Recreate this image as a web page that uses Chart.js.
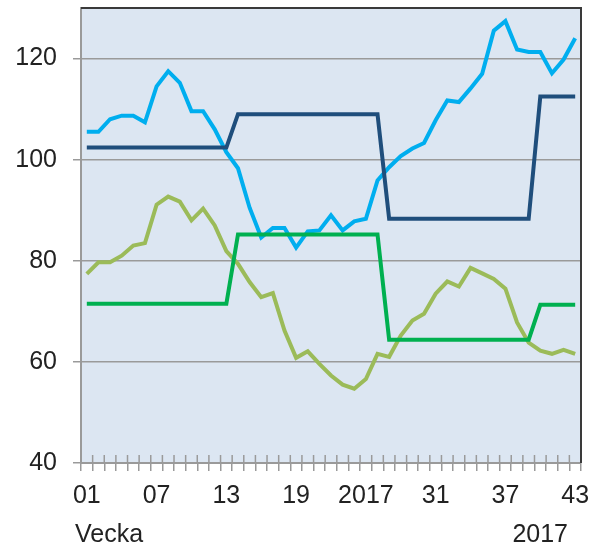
<!DOCTYPE html>
<html lang="sv">
<head>
    <meta charset="UTF-8">
    <title>Vecka 2017</title>
    <script src="https://cdn.jsdelivr.net/npm/chart.js"></script>
    <style>
        body {
            margin: 0;
            background: #ffffff;
        }
        .wrap {
            width: 606px;
            height: 552px;
        }
    </style>
</head>
<body>
    <div class="wrap">
        <canvas id="chart" width="606" height="552"></canvas>
    </div>

    <script>
        const weeks = ['01','02','03','04','05','06','07','08','09','10','11','12','13','14','15',
            '16','17','18','19','20','21','22','23','24','25','26','27','28','29','30',
            '31','32','33','34','35','36','37','38','39','40','41','42','43'];
        const tickLabels = ['01', '07', '13', '19', '2017', '31', '37', '43'];
        const tickStep = 6;
        const yTicks = [40, 60, 80, 100, 120];

        const lightBlue = [105.5, 105.5, 108.0, 108.7, 108.7, 107.4, 114.5, 117.5, 115.2, 109.6,
            109.6, 106.0, 101.5, 98.3, 90.5, 84.6, 86.5, 86.5, 82.6, 85.8,
            86.0, 89.0, 86.0, 87.8, 88.3, 95.9, 98.5, 100.7, 102.2, 103.3,
            107.8, 111.7, 111.4, 114.1, 117.0, 125.5, 127.4, 121.8, 121.3, 121.3,
            117.1, 119.8, 124.0];
        const olive = [77.4, 79.7, 79.7, 81.0, 83.0, 83.5, 91.1, 92.7, 91.7, 88.0,
            90.3, 87.0, 81.9, 79.4, 75.8, 72.8, 73.6, 66.2, 60.8, 62.1,
            59.6, 57.3, 55.5, 54.7, 56.6, 61.6, 61.0, 65.2, 68.2, 69.5,
            73.5, 75.9, 74.9, 78.6, 77.5, 76.4, 74.5, 67.8, 63.8, 62.2,
            61.6, 62.4, 61.6];
        const navy = [102.4, 102.4, 102.4, 102.4, 102.4, 102.4, 102.4, 102.4, 102.4, 102.4,
            102.4, 102.4, 102.4, 109.0, 109.0, 109.0, 109.0, 109.0, 109.0, 109.0,
            109.0, 109.0, 109.0, 109.0, 109.0, 109.0, 88.3, 88.3, 88.3, 88.3,
            88.3, 88.3, 88.3, 88.3, 88.3, 88.3, 88.3, 88.3, 88.3, 112.5,
            112.5, 112.5, 112.5];
        const green = [71.5, 71.5, 71.5, 71.5, 71.5, 71.5, 71.5, 71.5, 71.5, 71.5,
            71.5, 71.5, 71.5, 85.2, 85.2, 85.2, 85.2, 85.2, 85.2, 85.2,
            85.2, 85.2, 85.2, 85.2, 85.2, 85.2, 64.4, 64.4, 64.4, 64.4,
            64.4, 64.4, 64.4, 64.4, 64.4, 64.4, 64.4, 64.4, 64.4, 71.3,
            71.3, 71.3, 71.3];

        const FONT = "'Liberation Sans', Arial, sans-serif";
        const AXIS_GRAY = '#9a9a9a';

        // plot background, dark frame on top/right, tick marks above the x axis, bottom captions
        const frame = {
            id: 'frame',
            beforeDraw(chart) {
                const { ctx, chartArea: a } = chart;
                ctx.save();
                ctx.fillStyle = '#dce6f2';
                ctx.fillRect(a.left, a.top, a.right - a.left, a.bottom - a.top);
                ctx.restore();
            },
            afterDraw(chart) {
                const { ctx, chartArea: a } = chart;
                const x = chart.scales.x;
                ctx.save();
                ctx.strokeStyle = AXIS_GRAY;
                ctx.lineWidth = 1.5;
                for (let i = 0; i <= weeks.length; i++) {
                    let px;
                    if (i === 0) px = a.left;
                    else if (i === weeks.length) px = a.right;
                    else px = (x.getPixelForValue(i - 1) + x.getPixelForValue(i)) / 2;
                    ctx.beginPath();
                    ctx.moveTo(px, a.bottom - 8);
                    ctx.lineTo(px, a.bottom);
                    ctx.stroke();
                }
                ctx.strokeStyle = '#3a3a3a';
                ctx.lineWidth = 2;
                ctx.beginPath();
                ctx.moveTo(a.left, a.top);
                ctx.lineTo(a.right, a.top);
                ctx.lineTo(a.right, a.bottom);
                ctx.stroke();

                ctx.fillStyle = '#222';
                ctx.font = '25px ' + FONT;
                ctx.textBaseline = 'middle';
                ctx.textAlign = 'left';
                ctx.fillText('Vecka', 75, 535);
                ctx.textAlign = 'right';
                ctx.fillText('2017', 568, 535);
                ctx.restore();
            }
        };

        function lineSet(label, data, color, order) {
            return {
                label: label,
                data: data,
                borderColor: color,
                borderWidth: 4,
                pointRadius: 0,
                tension: 0,
                fill: false,
                order: order
            };
        }

        new Chart(document.getElementById('chart'), {
            type: 'line',
            data: {
                labels: weeks,
                datasets: [
                    lineSet('Serie 1', lightBlue, '#00aeef', 3),
                    lineSet('Serie 2', olive, '#9bbb59', 2),
                    lineSet('Serie 3', navy, '#1f4e7c', 1),
                    lineSet('Serie 4', green, '#00b050', 0)
                ]
            },
            options: {
                responsive: false,
                animation: false,
                layout: { padding: { top: 8, right: 25, left: 0, bottom: 0 } },
                plugins: {
                    legend: { display: false },
                    tooltip: { enabled: false }
                },
                scales: {
                    x: {
                        offset: true,
                        grid: {
                            offset: true,
                            drawOnChartArea: false,
                            drawTicks: true,
                            tickLength: 8,
                            color: AXIS_GRAY,
                            lineWidth: 1.5
                        },
                        border: { display: true, color: AXIS_GRAY, width: 2 },
                        ticks: {
                            autoSkip: false,
                            maxRotation: 0,
                            padding: 10,
                            color: '#222',
                            font: { family: FONT, size: 25 },
                            callback: (v, i) => (i % tickStep === 0 ? tickLabels[i / tickStep] : '')
                        },
                        afterFit: s => {
                            s.height = 89;
                            s.paddingLeft = 0;
                            s.paddingRight = 0;
                        }
                    },
                    y: {
                        min: 40,
                        max: 130,
                        afterBuildTicks: s => { s.ticks = yTicks.map(v => ({ value: v })); },
                        grid: {
                            color: AXIS_GRAY,
                            lineWidth: 1.5,
                            drawTicks: true,
                            tickLength: 8
                        },
                        border: { display: true, color: AXIS_GRAY, width: 2 },
                        ticks: {
                            padding: 16,
                            color: '#222',
                            font: { family: FONT, size: 25 }
                        },
                        afterFit: s => {
                            s.width = 81;
                            s.paddingTop = 0;
                            s.paddingBottom = 0;
                        }
                    }
                }
            },
            plugins: [frame]
        });
    </script>
</body>
</html>
